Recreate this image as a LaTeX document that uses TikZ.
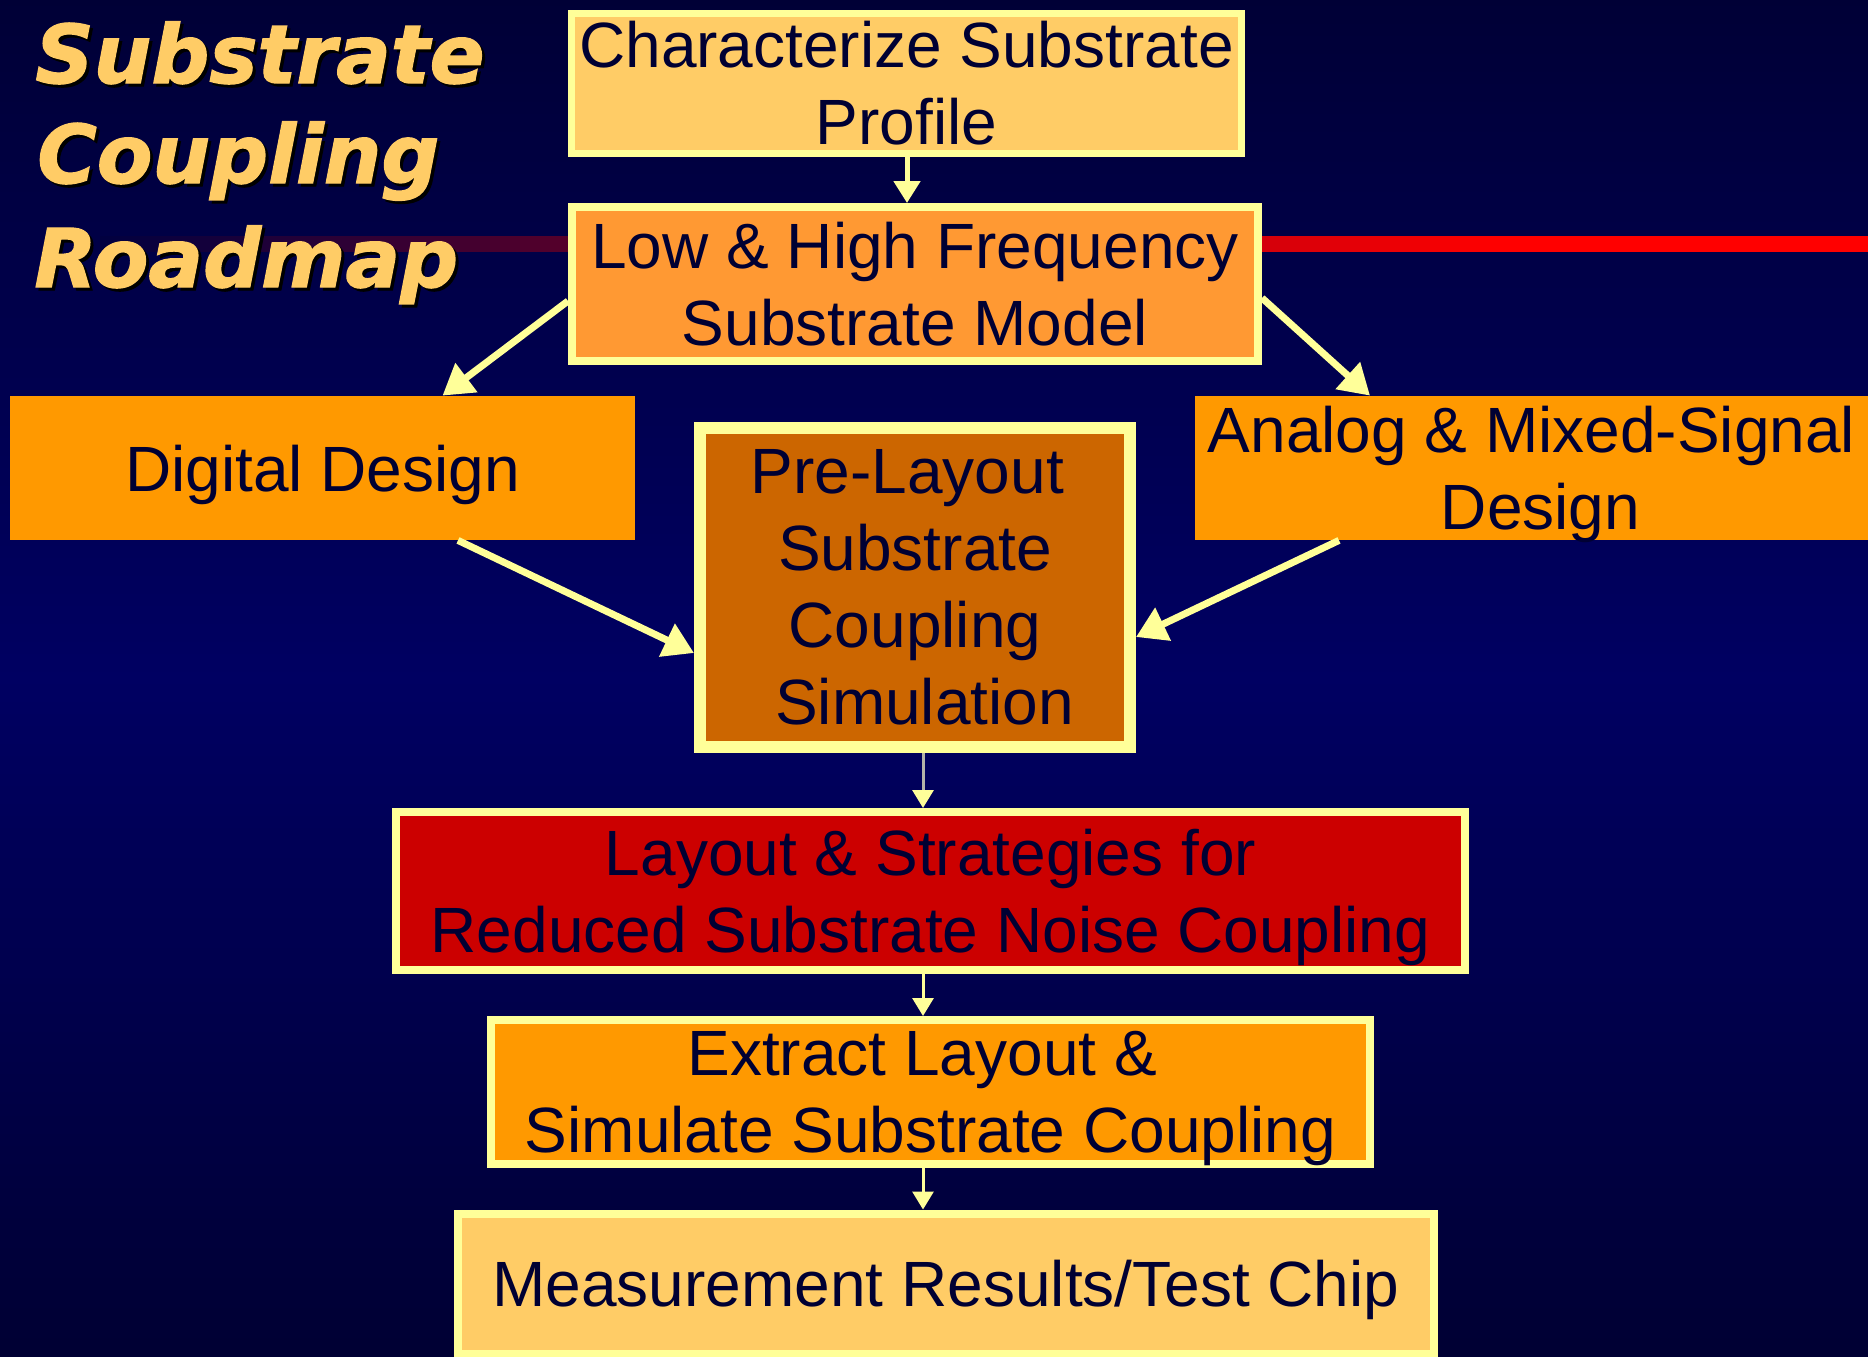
\documentclass[tikz,border=0pt]{standalone}
\usepackage{fontspec}
\setmainfont{Liberation Sans}
\newfontfamily\titlefont[FakeBold=1.6]{DejaVu Sans Bold Oblique}
\usetikzlibrary{arrows.meta,calc}
\definecolor{bgtop}{HTML}{000036}
\definecolor{bgmid}{HTML}{000062}
\definecolor{bgbot}{HTML}{000033}
\definecolor{lineyel}{HTML}{FFFF99}
\definecolor{lightorange}{HTML}{FFCC66}
\definecolor{midorange}{HTML}{FF9933}
\definecolor{boxorange}{HTML}{FF9900}
\definecolor{boxbrown}{HTML}{CC6600}
\definecolor{boxred}{HTML}{CC0000}
\definecolor{txtcol}{HTML}{000033}
\definecolor{titlecol}{HTML}{FFCC66}
\definecolor{redleft}{HTML}{000040}
\definecolor{redright}{HTML}{FF0000}
\definecolor{shaftgray}{HTML}{B4B4A8}
\newcommand\bxfont{\fontsize{32pt}{38.5pt}\selectfont}
\newcommand\ttlfont{\titlefont\fontsize{40.5pt}{48pt}\selectfont}
\newcommand\nodp[1]{\raisebox{0pt}[\height][0pt]{#1}}
\tikzset{
  box/.style={rectangle, draw=lineyel, inner sep=0pt, text=txtcol, align=center, font=\bxfont},
  plainbox/.style={rectangle, draw=none, inner sep=0pt, text=txtcol, align=center, font=\bxfont},
  ttl/.style={inner sep=0pt, anchor=base west, font=\ttlfont},
  bgarrow/.style={draw=lineyel, line width=3.5pt, -{Triangle[length=15pt,width=17.5pt]}},
  tharrow/.style={draw=lineyel, line width=1.5pt, -{Triangle[length=9pt,width=10.5pt]}},
  firstarrow/.style={draw=lineyel, line width=2.5pt, -{Triangle[length=11pt,width=13pt]}}
}
\begin{document}
\begin{tikzpicture}[x=0.5pt,y=-0.5pt]
\useasboundingbox (0,0) rectangle (1868,1356);
% background gradient (stepped bands)
\foreach \i in {0,...,112}{
  \pgfmathsetmacro\yy{\i*6}
  \pgfmathsetmacro\pp{(\i+0.5)/113*100}
  \fill[bgmid!\pp!bgtop] (0,\yy) rectangle (1868,\yy+6.6);
}
\foreach \i in {0,...,112}{
  \pgfmathsetmacro\yy{678+\i*6}
  \pgfmathsetmacro\pp{(\i+0.5)/113*100}
  \fill[bgbot!\pp!bgmid] (0,\yy) rectangle (1868,\yy+6.6);
}
% red line
\foreach \i in {0,...,139}{
  \pgfmathsetmacro\xx{100+\i*10}
  \pgfmathsetmacro\pp{(\i+0.5)/140*100}
  \fill[redright!\pp!redleft] (\xx,236) rectangle (\xx+10.6,252);
}
\fill[redright] (1500,236) rectangle (1868,252);
% title
\node[ttl, text=black] (t1s) at (38,86) {Substrate};
\node[ttl, text=titlecol] (t1) at (35,83) {Substrate};
\node[ttl, text=black] (t2s) at (40,186) {Coupling};
\node[ttl, text=titlecol] (t2) at (37,183) {Coupling};
\node[ttl, text=black] (t3s) at (37,290) {Roadmap};
\node[ttl, text=titlecol] (t3) at (34,287) {Roadmap};
% boxes
\node[box, line width=3.5pt, fill=lightorange, minimum width=335pt, minimum height=70pt] (b1) at (906.5,83.5) {Characterize Substrate\\Profile};
\node[box, line width=4pt, fill=midorange, minimum width=343pt, minimum height=77pt] (b2) at (915,284) {Low \& High Frequency\\Substrate Model};
\node[plainbox, fill=boxorange, minimum width=312.5pt, minimum height=72pt] (dig) at (322.5,468) {\nodp{Digital Design}};
\node[plainbox, fill=boxorange, minimum width=336.5pt, minimum height=72pt] (an) at (1531.5,468) {Analog \& Mixed-Signal\\\rule{9pt}{0pt}\nodp{Design}};
\node[box, line width=6pt, fill=boxbrown, minimum width=215pt, minimum height=159.5pt] (b5) at (915,587.5) {Pre-Layout\rule{7.7pt}{0pt}\\Substrate\\Coupling\\\rule{9.5pt}{0pt}Simulation};
\node[box, line width=4pt, fill=boxred, minimum width=534.5pt, minimum height=79pt] (b6) at (930.5,891) {Layout \& Strategies for\\\nodp{Reduced Substrate Noise Coupling}};
\node[box, line width=4pt, fill=boxorange, minimum width=439.5pt, minimum height=72pt] (b7) at (930.5,1092) {Extract Layout \&\rule{8.3pt}{0pt}\\\nodp{Simulate Substrate Coupling}};
\node[box, line width=4pt, fill=lightorange, minimum width=488pt, minimum height=70pt] (b8) at (946,1283.5) {\nodp{Measurement Results/Test Chip}};
% arrows
\coordinate (a1) at (907,0);
\coordinate (ax) at (923,0);
\draw[firstarrow] (b1.south -| a1) -- (b2.north -| a1);
\draw[bgarrow] ([yshift=-8.5pt]b2.west) -- ([xshift=60pt]dig.north);
\draw[bgarrow] ([yshift=-7pt]b2.east) -- ([xshift=-80.75pt]an.north);
\draw[bgarrow] ([xshift=67.75pt]dig.south) -- ([yshift=-32.75pt]b5.west);
\draw[bgarrow] ([xshift=-96.25pt]an.south) -- ([yshift=-24.75pt]b5.east);
\draw[tharrow, draw=shaftgray, -{Triangle[length=9pt,width=10.5pt,color=lineyel]}] (b5.south -| ax) -- (b6.north -| ax);
\draw[tharrow] (b6.south -| ax) -- (b7.north -| ax);
\draw[tharrow] (b7.south -| ax) -- (b8.north -| ax);
\end{tikzpicture}
\end{document}
